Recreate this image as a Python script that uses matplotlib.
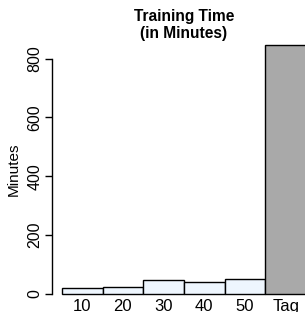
import matplotlib
matplotlib.use("Agg")
import matplotlib.pyplot as plt

plt.rcParams['font.family'] = ['Liberation Sans', 'DejaVu Sans']

labels = ["10", "20", "30", "40", "50", "Tag"]
minutes = [18, 21, 45, 41, 48, 847]
colors = ["#EEF6FE"] * 5 + ["#A9A9A9"]

W, H = 305, 312
fig = plt.figure(figsize=(W / 100, H / 100), dpi=100)

# R-style plot region, running past the right edge of the picture
left, right = 52, 316
top, bottom = 35, 303.5
ax = fig.add_axes([left / W, (H - bottom) / H, (right - left) / W, (bottom - top) / H])

x = range(len(minutes))
ax.bar(x, minutes, width=1.0, color=colors, edgecolor="black", linewidth=1.0)

n = len(minutes)
ax.set_xlim(-0.5 - 0.04 * n, n - 0.5 + 0.04 * n)
ymax = max(minutes)
ax.set_ylim(-0.04 * ymax, ymax * 1.04)

for s in ["top", "right", "bottom"]:
    ax.spines[s].set_visible(False)
ax.spines["left"].set_bounds(0, 800)
ax.spines["left"].set_linewidth(1.0)

ax.set_yticks([0, 200, 400, 600, 800])
ax.set_yticklabels(["0", "200", "400", "600", "800"], rotation=90, va="center", fontsize=11.5)
ax.tick_params(axis="y", length=5, width=1.0, pad=2)

ax.set_xticks(list(x))
ax.set_xticklabels(labels, fontsize=12)
ax.tick_params(axis="x", length=0, pad=-3)

ax.set_ylabel("Minutes", fontsize=11, labelpad=5)
fig.text(184 / W, 1 - 9 / H, "Training Time\n(in Minutes)", ha="center", va="top",
         fontsize=11.2, fontweight="bold", linespacing=1.15)

fig.savefig("out.png", dpi=100)
